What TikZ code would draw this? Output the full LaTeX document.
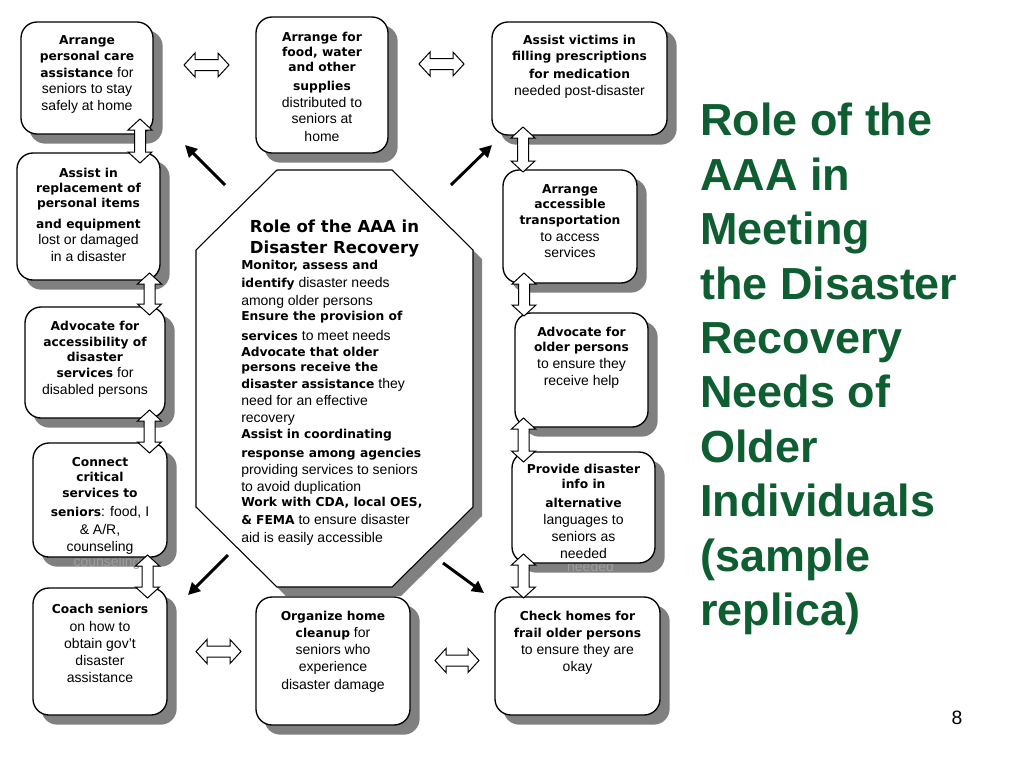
\documentclass[tikz,border=0pt]{standalone}
\usepackage{fontspec}
\setmainfont{Liberation Sans}
\newfontfamily\heavyfam{DejaVu Sans}
\usetikzlibrary{arrows.meta,calc}
\pgfdeclarelayer{bg}
\pgfdeclarelayer{shadowlayer}
\pgfdeclarelayer{ghostlayer}
\pgfsetlayers{bg,shadowlayer,ghostlayer,main}
\definecolor{titlegreen}{RGB}{14,94,50}
\definecolor{shadowc}{RGB}{128,128,128}
\definecolor{ghostc}{RGB}{158,158,158}
\newcommand\B[1]{{\heavyfam\bfseries\fontsize{9.2}{12}\selectfont #1}}
\newcommand\regfont{\fontsize{10.5}{12}\selectfont}
\newcommand\mkbox[5]{\node[box, minimum width={(#4-#2)*0.75pt}, minimum height={(#5-#3)*0.75pt}] (#1) at ({(#2+#4)/2},{(#3+#5)/2}) {};}
\newcommand\boxlines[3]{\foreach \ty/\tx [count=\nn] in {#3} {\node[txt] (#1-\nn) at (#2,\ty) {\tx};}}
\tikzset{
  box/.style={rectangle, draw=black, fill=white, line width=1pt, rounded corners=12pt, inner sep=0pt},
  txt/.style={anchor=base, inner sep=0pt, font=\regfont},
  otxt/.style={anchor=base west, inner sep=0pt, font=\regfont},
  diag/.style={line width=2.2pt, -{Triangle[length=9pt,width=9pt]}},
  barrow/.style={draw=black, fill=white, line width=0.75pt, line join=miter},
  hdbl/.pic={\draw[barrow] (-#1,0) -- (-#1+11,-12) -- (-#1+11,-5.5) -- (#1-11,-5.5) -- (#1-11,-12) -- (#1,0) -- (#1-11,12) -- (#1-11,5.5) -- (-#1+11,5.5) -- (-#1+11,12) -- cycle;},
  octo/.style={draw=black, fill=white, line width=0.8pt}
}
\begin{document}
\begin{tikzpicture}[x=0.75pt,y=-0.75pt]
\path[use as bounding box] (0,0) rectangle (1024,768);
\begin{pgfonlayer}{bg}
\fill[white] (0,0) rectangle (1024,768);
\end{pgfonlayer}

% octagon
\coordinate (o1) at (277,170);
\coordinate (o2) at (392,170);
\coordinate (o3) at (473,250);
\coordinate (o4) at (473,507);
\coordinate (o5) at (392,587);
\coordinate (o6) at (277,587);
\coordinate (o7) at (196,507);
\coordinate (o8) at (196,250);
\begin{pgfonlayer}{shadowlayer}
\fill[shadowc] ($(o1)+(9,9)$) -- ($(o2)+(9,9)$) -- ($(o3)+(9,9)$) -- ($(o4)+(9,9)$) -- ($(o5)+(9,9)$) -- ($(o6)+(9,9)$) -- ($(o7)+(9,9)$) -- ($(o8)+(9,9)$) -- cycle;
\end{pgfonlayer}
\draw[octo] (o1) -- (o2) -- (o3) -- (o4) -- (o5) -- (o6) -- (o7) -- (o8) -- cycle;

\node[anchor=base, inner sep=0pt, font=\heavyfam\bfseries\fontsize{12.4}{15}\selectfont] (ot1) at (334.5,232) {Role of the AAA in};
\node[anchor=base, inner sep=0pt, font=\heavyfam\bfseries\fontsize{12.4}{15}\selectfont] (ot2) at (334.5,253) {Disaster Recovery};
\foreach \ty/\tx [count=\nn] in {
  269.5/{\B{Monitor, assess and}},
  287.5/{\B{identify} disaster needs},
  305.5/{among older persons},
  320.5/{\B{Ensure the provision of}},
  340.5/{\B{services} to meet needs},
  356.5/{\B{Advocate that older}},
  371.5/{\B{persons receive the}},
  388.5/{\B{disaster assistance} they},
  405.5/{need for an effective},
  422.5/{recovery},
  438.5/{\B{Assist in coordinating}},
  457.5/{\B{response among agencies}},
  474.5/{providing services to seniors},
  491.5/{to avoid duplication},
  506.5/{\B{Work with CDA, local OES,}},
  524.5/{\B{\& FEMA} to ensure disaster},
  542.5/{aid is easily accessible}}
  {\node[otxt] (ol-\nn) at (241,\ty) {\tx};}

% boxes
\mkbox{b1}{21}{22}{153}{134}
\mkbox{b2}{17}{153}{160}{280}
\mkbox{b3}{25}{307}{165}{418}
\mkbox{b4}{33}{443}{167}{557}
\mkbox{b5}{33}{588}{167}{715}
\mkbox{b6}{256}{17}{388}{153}
\mkbox{b7}{492}{22}{667}{135}
\mkbox{b8}{503}{170}{637}{283}
\mkbox{b9}{515}{313}{648}{427}
\mkbox{b10}{512}{452}{655}{563}
\mkbox{b11}{495}{597}{660}{715}
\mkbox{b12}{256}{597}{410}{725}

\begin{pgfonlayer}{shadowlayer}
\foreach \n in {1,...,12}
  {\fill[shadowc, rounded corners=12pt] ($(b\n.south west)+(9,9)$) rectangle ($(b\n.north east)+(9,9)$);}
\end{pgfonlayer}
\begin{pgfonlayer}{ghostlayer}
\node[txt, text=ghostc] (g1) at (590.5,571) {needed};
\node[txt, text=ghostc] (g2) at (107,566) {counseling};
\end{pgfonlayer}

\boxlines{b1}{87}{44.5/{\B{Arrange}}, 60.5/{\B{personal care}}, 77.5/{\B{assistance} for}, 93.5/{seniors to stay}, 110.5/{safely at home}}
\boxlines{b2}{88.5}{177.5/{\B{Assist in}}, 192.5/{\B{replacement of}}, 207.5/{\B{personal items}}, 228.5/{\B{and equipment}}, 244.5/{lost or damaged}, 261.5/{in a disaster}}
\boxlines{b3}{95}{330.5/{\B{Advocate for}}, 346.5/{\B{accessibility of}}, 361.5/{\B{disaster}}, 377.5/{\B{services} for}, 394.5/{disabled persons}}
\boxlines{b4}{100}{466.5/{\B{Connect}}, 481.5/{\B{critical}}, 497.5/{\B{services to}}, 516.5/{\B{seniors}: food, I}, 534.5/{\& A/R,}, 551.5/{counseling}}
\boxlines{b5}{100}{613.5/{\B{Coach seniors}}, 631/{on how to}, 648.5/{obtain gov’t}, 665.5/{disaster}, 682/{assistance}}
\boxlines{b6}{322}{41/{\B{Arrange for}}, 56/{\B{food, water}}, 71/{\B{and other}}, 90.5/{\B{supplies}}, 107/{distributed to}, 123.5/{seniors at}, 141/{home}}
\boxlines{b7}{579.5}{44.5/{\B{Assist victims in}}, 60/{\B{filling prescriptions}}, 78.5/{\B{for medication}}, 95.5/{needed post-disaster}}
\boxlines{b8}{570}{193/{\B{Arrange}}, 208.5/{\B{accessible}}, 224/{\B{transportation}}, 241/{to access}, 257.5/{services}}
\boxlines{b9}{581.5}{336.5/{\B{Advocate for}}, 351.5/{\B{older persons}}, 368.5/{to ensure they}, 385.5/{receive help}}
\boxlines{b10}{583.5}{473/{\B{Provide disaster}}, 488.5/{\B{info in}}, 507.5/{\B{alternative}}, 524.5/{languages to}, 541.5/{seniors as}, 558.5/{needed}}
\boxlines{b11}{577.5}{620.5/{\B{Check homes for}}, 637/{\B{frail older persons}}, 654/{to ensure they are}, 671.5/{okay}}
\boxlines{b12}{333}{620.5/{\B{Organize home}}, 637.5/{\B{cleanup} for}, 654.5/{seniors who}, 671.5/{experience}, 689/{disaster damage}}

% block double arrows
\pic at (206.5,65) {hdbl=22.5};
\pic at (441.5,64) {hdbl=22.5};
\pic at (218.5,651.5) {hdbl=22.5};
\pic at (457,660.5) {hdbl=22};
\pic[rotate=90] at (140,141) {hdbl=22};
\pic[rotate=90] at (149.5,294) {hdbl=21};
\pic[rotate=90] at (149.5,431.5) {hdbl=21.5};
\pic[rotate=90] at (147.5,576.5) {hdbl=21.5};
\pic[rotate=90] at (523,149.5) {hdbl=22.5};
\pic[rotate=90] at (524,294.5) {hdbl=21.5};
\pic[rotate=90] at (523.5,440) {hdbl=22};
\pic[rotate=90] at (523.5,576) {hdbl=22};

% diagonal arrows
\coordinate (nwS) at (225,185);
\coordinate (nwE) at (185,145);
\coordinate (neS) at (451,185);
\coordinate (neE) at (492,145);
\coordinate (swS) at (228,555);
\coordinate (swE) at (188,595);
\coordinate (seS) at (443,563);
\coordinate (seE) at (484,593);
\draw[diag] (nwS) -- (nwE);
\draw[diag] (neS) -- (neE);
\draw[diag] (swS) -- (swE);
\draw[diag] (seS) -- (seE);

% title
\node[anchor=north west, inner sep=0pt, align=left, text=titlegreen, font=\bfseries\fontsize{33.7}{40.8}\selectfont] (title) at (700,103) {Role of the\\AAA in\\Meeting\\the Disaster\\Recovery\\Needs of\\Older\\Individuals\\(sample\\replica)};
\node[anchor=base, inner sep=0pt, font=\fontsize{14.5}{16}\selectfont] (pg) at (957,724) {8};
\end{tikzpicture}
\end{document}
